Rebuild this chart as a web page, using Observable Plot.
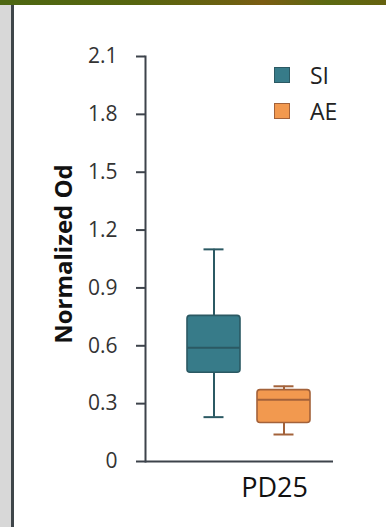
<!DOCTYPE html>
<html>
<head>
<meta charset="utf-8">
<script src="https://cdn.jsdelivr.net/npm/d3@7"></script>
<script src="https://cdn.jsdelivr.net/npm/@observablehq/plot@0.6"></script>
<style>
  html, body { margin: 0; padding: 0; background: #fff; }
  #page { position: relative; width: 386px; height: 527px; overflow: hidden; background: #fff; font-family: "Open Sans", sans-serif; }
  #band { position: absolute; left: 0; top: 0; width: 386px; height: 5px;
    background: linear-gradient(90deg, #4d6712 0%, #57650f 35%, #6d6011 60%, #7b5c12 68%, #5b6911 85%, #66620f 100%); }
  #side { position: absolute; left: 0; top: 5px; width: 11px; height: 522px; background: #d8d8d8; }
  #sideLine { position: absolute; left: 11px; top: 5px; width: 3px; height: 522px; background: #3f464a; }
  #chart { position: absolute; left: 0; top: 0; }
  .key { position: absolute; display: flex; align-items: center; font-size: 23px; color: #222; }
  .key span.sw { display: inline-block; width: 14px; height: 14px; border: 1.5px solid; margin-right: 20px; }
</style>
</head>
<body>
<div id="page">
  <div id="band"></div>
  <div id="side"></div>
  <div id="sideLine"></div>
  <div id="chart"></div>
  <div id="legend"></div>
</div>
<script>
// Box-plot summary for each treatment group at PD25
const groups = ["SI", "AE"];
const whiskerLow = [0.23, 0.14];
const quartile1 = [0.46, 0.20];
const medians = [0.59, 0.32];
const quartile3 = [0.755, 0.37];
const whiskerHigh = [1.10, 0.39];
const category = "PD25";
const yTicks = [0, 0.3, 0.6, 0.9, 1.2, 1.5, 1.8, 2.1];
const yTitle = "Normalized Od";

const fills = ["#377b89", "#f2994f"];
const strokes = ["#2b5963", "#a3623a"];

const rows = groups.map((g, i) => ({
  group: g,
  lo: whiskerLow[i],
  q1: quartile1[i],
  med: medians[i],
  q3: quartile3[i],
  hi: whiskerHigh[i]
}));

const axisColor = "#3d434b";
const strokeOf = d => strokes[groups.indexOf(d.group)];

const chart = Plot.plot({
  width: 386,
  height: 527,
  marginLeft: 145,
  marginRight: 53,
  marginTop: 56,
  marginBottom: 66,
  style: { fontFamily: "Open Sans, sans-serif", fontSize: "21px", color: "#333", background: "transparent", overflow: "visible" },
  x: { type: "band", domain: groups, range: [169, 328], padding: 0.24, axis: null },
  y: { domain: [0, 2.1], axis: null },
  color: { domain: groups, range: fills },
  marks: [
    Plot.frame({ anchor: "left", stroke: axisColor, strokeWidth: 2 }),
    Plot.ruleY([0], { stroke: axisColor, strokeWidth: 2 }),
    Plot.axisY(yTicks, {
      anchor: "left",
      tickSize: 9,
      tickPadding: 19,
      stroke: axisColor,
      strokeWidth: 2,
      fill: "#333",
      fontSize: 21,
      tickFormat: d => d === 0 ? "0" : d.toFixed(1),
      label: null
    }),
    Plot.text([yTitle], {
      frameAnchor: "left",
      textAnchor: "middle",
      rotate: -90,
      dx: -81,
      dy: -5,
      fontSize: 24,
      fontWeight: "bold",
      fill: "#111"
    }),
    Plot.text([category], {
      frameAnchor: "bottom",
      dx: 35,
      dy: 35,
      fontSize: 27,
      fill: "#111"
    }),
    // whiskers and caps
    Plot.ruleX(rows, { x: "group", y1: "lo", y2: "hi", stroke: strokeOf, strokeWidth: 2 }),
    Plot.tickY(rows, { x: "group", y: "hi", stroke: strokeOf, strokeWidth: 2, insetLeft: 16.5, insetRight: 16.5 }),
    Plot.tickY(rows, { x: "group", y: "lo", stroke: strokeOf, strokeWidth: 2, insetLeft: 16.5, insetRight: 16.5 }),
    // interquartile boxes
    Plot.barY(rows, { x: "group", y1: "q1", y2: "q3", fill: "group", stroke: strokeOf, strokeWidth: 1.6, rx: 3 }),
    // medians
    Plot.tickY(rows, { x: "group", y: "med", stroke: strokeOf, strokeWidth: 2 })
  ]
});
document.getElementById("chart").appendChild(chart);

// legend
const legend = document.getElementById("legend");
const keyTops = [61, 97];
groups.forEach((g, i) => {
  const k = document.createElement("div");
  k.className = "key";
  k.style.left = "274px";
  k.style.top = keyTops[i] + "px";
  k.style.height = "28px";
  const sw = document.createElement("span");
  sw.className = "sw";
  sw.style.background = fills[i];
  sw.style.borderColor = strokes[i];
  k.appendChild(sw);
  k.appendChild(document.createTextNode(g));
  legend.appendChild(k);
});
</script>
</body>
</html>
